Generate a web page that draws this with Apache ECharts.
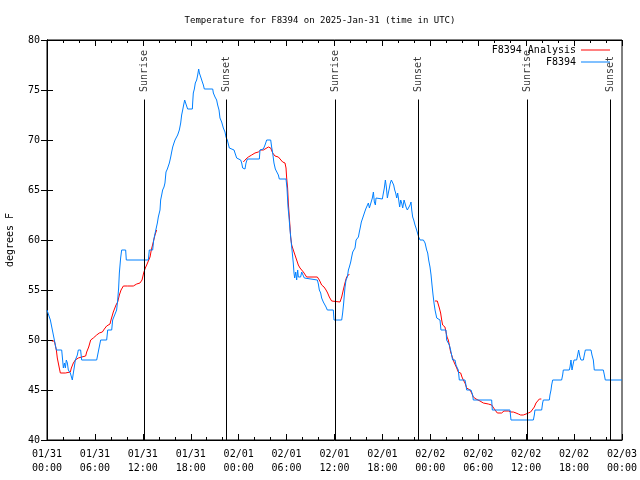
<!DOCTYPE html>
<html>
<head>
<meta charset="utf-8">
<script src="https://cdn.jsdelivr.net/npm/echarts@6/dist/echarts.min.js"></script>
<style>html,body{margin:0;padding:0;background:#fff}#c{width:640px;height:480px}</style>
</head>
<body>
<div id="c"></div>
<script>
// hours since 01/31 00:00 UTC
var tickLabels = ['01/31\n00:00','01/31\n06:00','01/31\n12:00','01/31\n18:00','02/01\n00:00','02/01\n06:00','02/01\n12:00','02/01\n18:00','02/02\n00:00','02/02\n06:00','02/02\n12:00','02/02\n18:00','02/03\n00:00'];
var sunTimes = [12.18, 22.45, 36.1, 46.49, 60.14, 70.54];
var sunNames = ['Sunrise','Sunset','Sunrise','Sunset','Sunrise','Sunset'];

var obs = [
[0,53],[0.17,53],[0.42,52],[0.67,51],[0.92,50],[1.17,49],[1.84,49],[2.05,47.2],[2.18,47.7],[2.3,47.2],[2.42,48],[2.55,47.7],[2.67,47],[2.8,47],[2.92,46.7],[3.17,46],[3.3,46.7],[3.42,47.3],[3.55,48],[3.8,48.5],[3.92,49],[4.21,49],[4.34,48],[6.22,48],[6.47,49],[6.72,50],[7.47,50],[7.6,51],[8.1,51],[8.22,52],[8.47,52.5],[8.72,53],[8.85,54],[8.97,55.2],[9.06,56.7],[9.22,58.2],[9.35,59],[9.85,59],[9.93,58],[12.69,58],[12.81,59],[13.23,59],[13.36,60],[13.57,60.8],[13.65,61],[13.82,61.7],[13.94,62.3],[14.15,63],[14.23,64],[14.36,64.5],[14.48,65],[14.65,65.3],[14.77,65.7],[14.9,66.8],[15.07,67.1],[15.2,67.2],[15.32,67.7],[15.49,68.3],[15.61,68.8],[15.74,69.3],[15.9,69.7],[16.03,70],[16.2,70],[16.36,70.5],[16.57,71],[16.74,71.7],[16.86,72.5],[16.99,73],[17.11,73.5],[17.24,74],[17.36,73.7],[17.49,73.5],[17.61,73.1],[18.2,73.1],[18.24,73.7],[18.32,74.7],[18.45,75.1],[18.57,75.7],[18.74,76],[18.87,76.5],[18.99,77.1],[19.08,76.7],[19.2,76.5],[19.29,76.2],[19.45,75.8],[19.58,75.5],[19.7,75.1],[20.75,75.1],[20.83,74.7],[21.04,74.3],[21.24,74],[21.37,73.5],[21.54,73],[21.66,72.2],[21.87,71.8],[22.08,71.2],[22.29,70.8],[22.41,70.3],[22.58,70],[22.83,69.2],[23.42,69],[23.54,68.7],[23.75,68.2],[23.96,68],[24.25,68],[24.38,67.7],[24.5,67.2],[24.79,67.1],[24.92,67.7],[25.09,68.1],[26.59,68.1],[26.67,69],[27.09,69.1],[27.3,69.5],[27.51,70],[28.01,70],[28.13,69.3],[28.26,68.7],[28.42,67.7],[28.59,67.1],[28.84,67],[28.97,66.5],[29.09,66.1],[29.93,66.1],[30.05,65.2],[30.18,63.3],[30.3,62.3],[30.43,61],[30.55,60],[30.68,59],[30.84,57.7],[30.93,56.7],[31.01,56.2],[31.14,56.8],[31.26,56],[31.39,57],[31.47,56.3],[31.6,56.2],[31.76,56.3],[31.89,56.8],[32.01,56.7],[32.1,56.6],[32.22,56.2],[32.31,56],[33.85,56],[33.98,55.6],[34.1,55],[34.27,54.7],[34.39,54.2],[34.6,53.8],[34.81,53.6],[34.94,53.3],[35.1,53],[35.85,53],[35.94,52],[36.9,52],[37.02,52.7],[37.15,53.7],[37.23,54.5],[37.32,55.3],[37.44,56],[37.61,56.3],[37.74,57],[37.86,57.3],[38.03,57.8],[38.15,58.3],[38.28,58.8],[38.44,59],[38.57,59.2],[38.7,60],[38.86,60.2],[38.99,60.3],[39.11,60.8],[39.24,61.3],[39.36,61.8],[39.49,62.1],[39.61,62.3],[39.78,62.8],[39.91,63.1],[40.11,63.1],[40.24,63.7],[40.37,63.2],[40.49,63],[40.62,63.3],[40.74,64.2],[40.87,64.8],[40.99,63.8],[41.12,63.5],[41.2,64.2],[41.37,64.1],[41.99,64.1],[42.12,64.7],[42.24,65.2],[42.37,66],[42.49,65.3],[42.62,64.2],[42.74,64.7],[42.87,65.2],[42.99,65.7],[43.12,66],[43.29,66],[43.41,65.5],[43.54,65],[43.66,64.7],[43.79,64.2],[43.91,64.7],[44.04,64],[44.16,63.3],[44.29,64],[44.41,63.7],[44.54,63.2],[44.71,64],[44.83,63.8],[44.96,63.3],[45.12,63],[45.29,63],[45.46,63.5],[45.58,63.8],[45.67,63],[45.79,62.3],[45.92,62],[46.08,61.5],[46.21,61.2],[46.38,61],[46.54,60.3],[46.71,60],[47.13,60],[47.34,59.7],[47.54,59],[47.67,58.7],[47.79,58],[47.96,57.3],[48.09,56.5],[48.21,55.5],[48.34,54.5],[48.46,53.7],[48.59,53],[48.71,53],[48.8,52.2],[48.9,52],[49.21,52],[49.33,51],[49.96,51],[50.04,50],[50.25,49.8],[50.38,49.5],[50.54,49],[50.75,49],[50.79,48],[51.09,48],[51.21,47.5],[51.5,47],[51.63,46],[52.34,46],[52.46,45.5],[52.55,45],[53.09,45],[53.3,44.5],[53.38,44],[55.68,44],[55.76,43],[57.97,43],[58.1,42],[60.9,42],[61.02,42.5],[61.1,43],[61.94,43],[62.06,43.7],[62.15,44],[62.9,44],[62.98,44.5],[63.11,45],[63.19,45.5],[63.32,46],[64.44,46],[64.57,46.5],[64.65,47],[65.4,47],[65.49,47.3],[65.61,48],[65.74,47],[65.86,47.5],[65.99,48],[66.32,48],[66.45,48.5],[66.57,49],[66.74,48.3],[66.87,48],[67.16,48],[67.28,48.5],[67.41,49],[68.12,49],[68.24,48.5],[68.41,48],[68.53,47],[69.66,47],[69.79,46.5],[69.91,46],[72,46]
];

var analysis = [
[0.6,49.9],[0.92,49.9],[1.17,49],[1.29,48.2],[1.54,47.2],[1.67,46.7],[2.3,46.7],[2.92,46.8],[3.05,47.2],[3.3,47.7],[3.55,48],[3.92,48.2],[4.34,48.3],[4.84,48.4],[4.97,48.8],[5.22,49.3],[5.47,50],[5.8,50.2],[6.22,50.5],[6.55,50.7],[6.93,50.8],[7.18,51.1],[7.47,51.4],[7.89,51.6],[8.01,52],[8.3,52.8],[8.64,53.5],[8.85,53.8],[9.06,54.5],[9.27,55],[9.56,55.4],[10.06,55.4],[10.81,55.4],[11.23,55.6],[11.64,55.7],[11.9,56],[12.1,56.7],[12.31,57.2],[12.48,57.5],[12.69,57.7],[12.9,58.3],[13.06,59],[13.31,59.8],[13.52,60.5],[13.73,61],
[19,null],
[24.58,67.8],[24.92,68.1],[25.21,68.3],[25.63,68.5],[26.04,68.7],[26.46,68.8],[26.76,69],[27.09,69],[27.3,69.2],[27.72,69.3],[28.01,69.2],[28.26,68.7],[28.55,68.4],[28.97,68.3],[29.18,68.2],[29.51,67.8],[29.8,67.7],[29.93,67.2],[30.01,66.2],[30.13,65.2],[30.22,63.7],[30.34,62.3],[30.43,61.3],[30.51,60.3],[30.64,59.5],[30.84,59],[31.05,58.5],[31.26,58],[31.47,57.5],[31.68,57.2],[32.1,56.8],[32.51,56.3],[33.85,56.3],[34.1,56],[34.39,55.5],[34.69,55.3],[34.94,55],[35.14,54.7],[35.35,54.3],[35.64,53.9],[35.85,53.8],[36.69,53.8],[36.9,54.3],[37.1,55],[37.31,55.7],[37.52,56.3],[37.86,56.6],
[43,null],
[48.58,53.9],[48.87,53.9],[49.0,53.7],[49.13,53.2],[49.29,52.7],[49.42,52],[49.54,51.5],[49.83,51.3],[49.96,50.8],[50.09,50.3],[50.25,50],[50.38,49.5],[50.54,48.8],[50.67,48.5],[50.79,48.2],[50.96,47.8],[51.09,47.7],[51.3,47.2],[51.5,46.8],[51.8,46.7],[51.96,46.3],[52.13,46],[52.34,45.7],[52.55,45.2],[52.97,45],[53.17,44.7],[53.38,44.3],[53.72,44.1],[54.22,43.9],[54.63,43.7],[55.26,43.6],[55.68,43.5],[55.89,43.3],[56.1,43],[56.39,42.7],[56.64,42.6],[56.93,42.7],[57.22,42.9],[57.47,42.9],[57.77,42.9],[58.1,42.8],[58.39,42.8],[58.73,42.7],[59.02,42.6],[59.31,42.5],[59.64,42.5],[59.98,42.6],[60.27,42.7],[60.56,42.8],[60.81,43],[61.02,43.3],[61.23,43.7],[61.4,43.9],[61.65,44.1],[61.9,44.1]
];

var FONT = 'DejaVu Sans Mono';
var chart = echarts.init(document.getElementById('c'), null, {renderer: 'canvas'});

var sunLines = sunTimes.map(function (t) {
  return [{coord: [t, 40]}, {coord: [t, 74.05]}];
});
var sunLabels = sunTimes.map(function (t, i) { return [t, 74.8, sunNames[i]]; });

var xBase = {
  type: 'value', min: 0, max: 72, interval: 6,
  axisLine: {show: true, lineStyle: {color: '#000', width: 1}},
  axisTick: {show: true, inside: true, length: 6, lineStyle: {color: '#000'}},
  minorTick: {show: true, splitNumber: 3, length: 3, lineStyle: {color: '#000'}},
  splitLine: {show: false}, minorSplitLine: {show: false}
};
var yBase = {
  type: 'value', min: 40, max: 80, interval: 5,
  axisLine: {show: true, lineStyle: {color: '#000', width: 1}},
  axisTick: {show: true, inside: true, length: 6, lineStyle: {color: '#000'}},
  splitLine: {show: false}
};

chart.setOption({
  animation: false,
  backgroundColor: '#fff',
  title: {
    text: 'Temperature for F8394 on 2025-Jan-31 (time in UTC)',
    left: 'center', top: 11,
    textStyle: {fontFamily: FONT, fontSize: 9, fontWeight: 'normal', color: '#000'}
  },
  legend: {
    data: ['F8394 Analysis', 'F8394'],
    orient: 'vertical', align: 'right',
    right: 30, top: 45, padding: 0,
    icon: 'rect',
    itemWidth: 29, itemHeight: 1, itemGap: 2,
    textStyle: {fontFamily: FONT, fontSize: 10, color: '#000'}
  },
  grid: {left: 47, right: 18, top: 40, bottom: 40, show: true, borderColor: '#000', borderWidth: 1, containLabel: false, outerBoundsMode: 'none'},
  xAxis: [
    Object.assign({}, xBase, {
      position: 'bottom',
      axisLabel: {
        margin: 7, lineHeight: 14, fontFamily: FONT, fontSize: 10, color: '#000',
        formatter: function (v) { return tickLabels[Math.round(v / 6)]; }
      }
    }),
    Object.assign({}, xBase, {position: 'top', axisLabel: {show: false}})
  ],
  yAxis: [
    Object.assign({}, yBase, {
      position: 'left',
      name: 'degrees F', nameLocation: 'middle', nameGap: 32, nameRotate: 90,
      nameTextStyle: {fontFamily: FONT, fontSize: 10, color: '#000'},
      axisLabel: {margin: 7, fontFamily: FONT, fontSize: 10, color: '#000'}
    }),
    Object.assign({}, yBase, {position: 'right', axisLabel: {show: false}})
  ],
  series: [
    {
      name: 'sun', type: 'line', data: [], silent: true,
      markLine: {
        silent: true, symbol: ['none', 'none'],
        lineStyle: {color: '#000', width: 1, type: 'solid'},
        label: {show: false},
        data: sunLines
      }
    },
    {
      name: 'sunLabels', type: 'scatter', symbolSize: 0, silent: true,
      data: sunLabels,
      label: {
        show: true, position: 'top', distance: 0, rotate: 90,
        align: 'left', verticalAlign: 'middle',
        fontFamily: FONT, fontSize: 10, color: '#000',
        formatter: function (p) { return p.data[2]; }
      }
    },
    {
      name: 'F8394 Analysis', type: 'line', data: analysis,
      symbol: 'none', showSymbol: false, connectNulls: false,
      lineStyle: {color: '#ff0000', width: 1}, itemStyle: {color: '#ff0000'}
    },
    {
      name: 'F8394', type: 'line', data: obs,
      symbol: 'none', showSymbol: false,
      lineStyle: {color: '#0080ff', width: 1}, itemStyle: {color: '#0080ff'}
    }
  ]
});
</script>
</body>
</html>
